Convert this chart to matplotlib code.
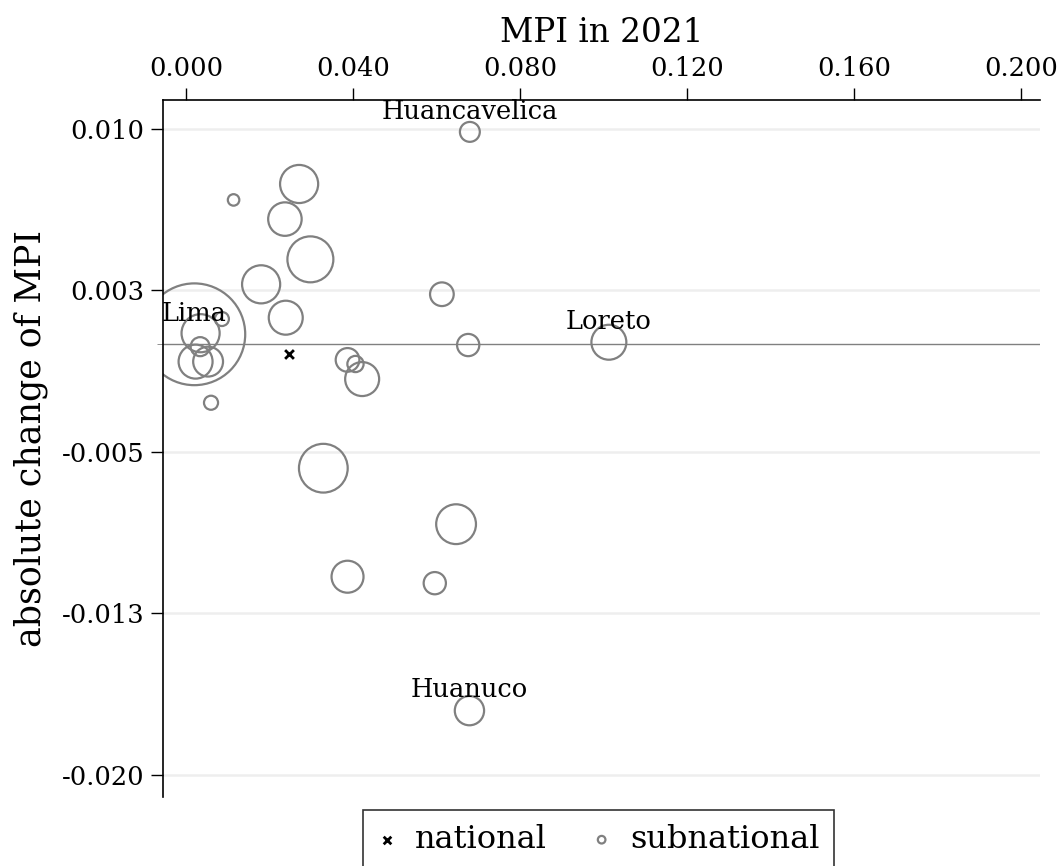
import matplotlib.pyplot as plt

plt.rcParams['font.family'] = 'DejaVu Serif'

# subnational regions: MPI in 2021, absolute change of MPI, population share (%)
mpi_2021 = [0.0680, 0.0271, 0.0114, 0.0237, 0.0298, 0.0180, 0.0239, 0.0020, 0.0035,
            0.0086, 0.0034, 0.0023, 0.0053, 0.0060, 0.0387, 0.0406, 0.0422, 0.0613,
            0.0676, 0.1013, 0.0329, 0.0647, 0.0387, 0.0596, 0.0679]
mpi_change = [0.00985, 0.00743, 0.00669, 0.00580, 0.00393, 0.00277, 0.00122, 0.00045,
              0.00050, 0.00116, -0.000125, -0.00082, -0.00082, -0.00273, -0.00074,
              -0.00093, -0.00163, 0.00231, -0.00005, 0.00008, -0.00577, -0.00837,
              -0.01081, -0.01111, -0.01703]
pop_share = [1.2, 4.4, 0.4, 3.4, 6.4, 4.4, 3.5, 31.4, 4.4, 0.6, 1.1, 3.5, 2.7, 0.6,
             1.7, 0.8, 3.5, 1.7, 1.5, 3.7, 7.2, 4.8, 3.1, 1.5, 2.6]
names = ['Huancavelica', '', '', '', '', '', '', 'Lima', '', '', '', '', '', '', '',
         '', '', '', '', 'Loreto', '', '', '', '', 'Huanuco']

national_mpi = 0.0247
national_change = -0.00046

xticks = [0.0, 0.04, 0.08, 0.12, 0.16, 0.20]
yticks = [-0.020, -0.0125, -0.005, 0.0025, 0.010]

fig = plt.figure(figsize=(10.62, 8.66), dpi=100)
ax = fig.add_axes([0.1535, 0.0797, 0.8255, 0.8048])

ax.axhline(0, color='#808080', lw=1, zorder=1)
for yt in yticks:
    ax.axhline(yt, color='#eeeeee', lw=1.8, zorder=0)

sizes = [p * 171 for p in pop_share]
ax.scatter(mpi_2021, mpi_change, s=sizes, facecolors='none', edgecolors='#808080',
           linewidths=1.6, zorder=2)
ax.scatter([national_mpi], [national_change], marker='x', color='black', s=40,
           linewidths=2, zorder=3)

for x, y, n in zip(mpi_2021, mpi_change, names):
    if n:
        ax.annotate(n, (x, y), xytext=(0, 15), textcoords='offset points',
                    ha='center', va='center', fontsize=18.5)

ax.set_xlim(-0.0055, 0.2045)
ax.set_ylim(-0.02104, 0.01133)
ax.xaxis.tick_top()
ax.xaxis.set_label_position('top')
ax.set_xticks(xticks)
ax.set_xticklabels([f'{v:.3f}' for v in xticks])
ax.set_yticks(yticks)
ax.set_yticklabels([f'{v:.3f}' for v in yticks])
ax.set_yticks([0], minor=True)
ax.tick_params(axis='y', which='minor', length=4, color='#808080')
ax.tick_params(axis='both', which='major', labelsize=18.5, length=8.5, width=1,
               pad=5)
ax.set_xlabel('MPI in 2021', fontsize=23.5, labelpad=10)
ax.set_ylabel('absolute change of MPI', fontsize=25)
ax.yaxis.set_label_coords(-0.131, 0.515)

ax.spines['right'].set_visible(False)
ax.spines['bottom'].set_visible(False)
ax.spines['left'].set_linewidth(1.2)
ax.spines['top'].set_linewidth(1.2)

h1 = ax.scatter([], [], marker='x', color='black', s=30, linewidths=2)
h2 = ax.scatter([], [], facecolors='none', edgecolors='#808080', s=30, linewidths=1.6)
leg = fig.legend([h1, h2], ['national', 'subnational'], loc='upper center',
                 bbox_to_anchor=(0.5635, 0.065), borderaxespad=0, ncol=2,
                 fontsize=23, frameon=True, fancybox=False, edgecolor='black',
                 handlelength=0.6, handletextpad=0.6, columnspacing=1.4,
                 borderpad=0.45)
leg.get_frame().set_linewidth(1.2)

fig.savefig('out.png', dpi=100)
